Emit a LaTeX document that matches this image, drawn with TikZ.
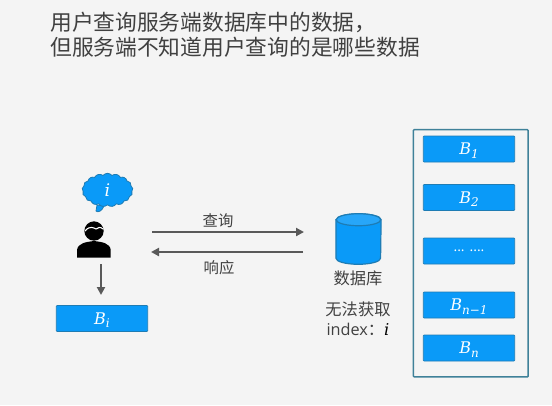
\documentclass[tikz,border=0pt]{standalone}
\usepackage{fontspec}
\setmainfont{Noto Sans CJK SC}
\newfontfamily\latinfont{Open Sans}
\newfontfamily\varfont{DejaVu Serif}
\usetikzlibrary{shapes.symbols,arrows.meta}
\definecolor{bgc}{HTML}{F4F4F4}
\definecolor{blu}{HTML}{0A9AF8}
\definecolor{bluedge}{HTML}{1E7CB4}
\definecolor{frame}{HTML}{3F8199}
\definecolor{txt}{HTML}{404040}
\definecolor{arr}{HTML}{595959}
\newcommand{\vv}[2]{{\varfont\itshape\fontsize{12}{12}\selectfont #1\raisebox{-2.5pt}{\fontsize{9}{9}\selectfont #2}}}
\tikzset{
  block/.style={draw=bluedge,fill=blu,line width=0.6pt,rounded corners=0.6pt,minimum width=68.5pt,minimum height=19.5pt,inner sep=0pt,text=white,text depth=0pt},
  lab/.style={text=txt,inner sep=0pt,font=\fontsize{12.2}{13}\selectfont},
  conn/.style={draw=arr,line width=1.5pt,-{Triangle[length=6pt,width=6pt]}},
}
\begin{document}
\begin{tikzpicture}[x=0.75pt,y=-0.75pt]
\useasboundingbox (0,0) rectangle (552,405);
\fill[bgc] (0,0) rectangle (552,405);
% title
\node[anchor=west,text=txt,inner sep=0pt,font=\fontsize{16.3}{16.3}\selectfont] (t1) at (50,22) {用户查询服务端数据库中的数据，};
\node[anchor=west,text=txt,inner sep=0pt,font=\fontsize{16.3}{16.3}\selectfont] (t2) at (50,47) {但服务端不知道用户查询的是哪些数据};
% store
\node[draw=frame,line width=1.1pt,rounded corners=0.6pt,minimum width=86pt,minimum height=185.5pt,inner sep=0pt] (store) at (470.75,253.25) {};
\node[block] (b1) at (469,149) {\vv{B}{1}};
\node[block] (b2) at (469,197.5) {\vv{B}{2}};
\node[block] (b3) at (469,251) {\latinfont\fontsize{10.5}{11}\selectfont ... ....};
\node[block] (b4) at (469,305) {\vv{B}{n−1}};
\node[block] (b5) at (469,348) {\vv{B}{n}};
\node[block] (bi) at (102,318.5) {\vv{B}{i}};
% database
\node[minimum width=33.5pt,minimum height=37.5pt,inner sep=0pt] (db) at (358.5,239) {};
\draw[draw=bluedge,fill=blu,line width=0.9pt] ([yshift=-4.5pt]db.north west) -- ([yshift=4.5pt]db.south west) arc[start angle=180,end angle=360,x radius=16.75pt,y radius=4.5pt] -- ([yshift=-4.5pt]db.north east) arc[start angle=0,end angle=180,x radius=16.75pt,y radius=4.5pt] -- cycle;
\draw[draw=bluedge,fill=blu!88!white,line width=0.9pt] ([yshift=-4.5pt]db.north) ellipse[x radius=16.75pt,y radius=4.5pt];
\node[lab] (dbl) at (358,278) {数据库};
\node[lab] (no) at (358,309) {无法获取};
\node[lab] (idx) at (358,329) {{\latinfont index}：{\varfont\itshape\color{black} i}};
% person
\node[circle,fill=black,minimum size=14.5pt,inner sep=0pt] (head) at (94,231) {};
\draw[white,line width=0.8pt,line cap=round] (85,231) .. controls (90,225) and (94,228) .. (96,229) .. controls (98,228) and (100,226) .. (103,229);
\fill[black] (77,257.7) -- (77,250) .. controls (78,243) and (86,242) .. (94,241) .. controls (102,242) and (110,243) .. (110.7,250) -- (110.7,257.7) -- cycle;
\coordinate (pfoot) at (101,264);
\coordinate (bitop) at (101,295);
\draw[conn] (pfoot) -- (bitop);
% thought cloud
\fill[blu,draw=bluedge,line width=0.6pt] (97,205) -- (96,211) .. controls (98,213) and (102,211) .. (104,206) -- cycle;
\node[cloud,cloud puffs=17,cloud puff arc=100,aspect=1.5,draw=bluedge,fill=blu,line width=0.6pt,minimum width=38pt,minimum height=25pt,inner sep=0pt,text=white] (cl) at (107.5,190) {{\varfont\itshape\fontsize{13}{13}\selectfont i}};
% arrows
\coordinate (q1) at (152,232);
\coordinate (q2) at (304,232);
\coordinate (r1) at (303,252);
\coordinate (r2) at (151,252);
\draw[conn] (q1) -- (q2);
\draw[conn] (r1) -- (r2);
\node[lab,font=\fontsize{11.5}{13}\selectfont] (ql) at (218,221) {查询};
\node[lab,font=\fontsize{11.5}{13}\selectfont] (rl) at (219,268) {响应};
\end{tikzpicture}
\end{document}
